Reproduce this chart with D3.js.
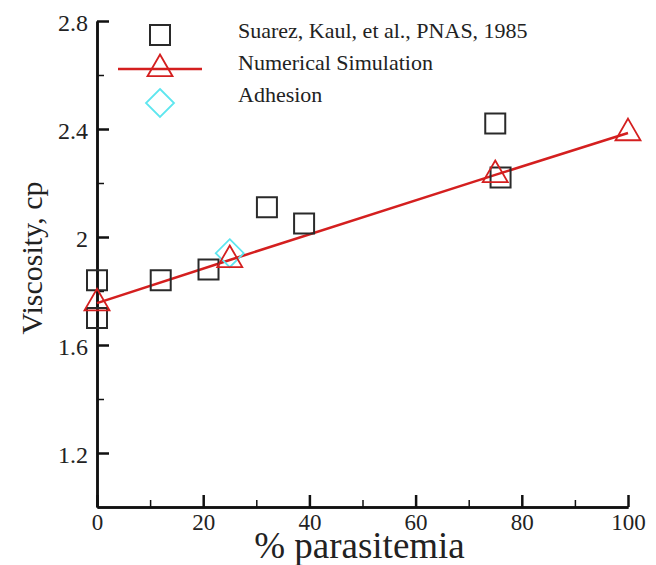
<!DOCTYPE html>
<html>
<head>
<meta charset="utf-8" />
<script src="https://d3js.org/d3.v7.min.js"></script>
<style>
  body { margin: 0; background: #fff; }
  text { font-family: "Liberation Serif", "Times New Roman", serif; fill: #222; }
</style>
</head>
<body>
<svg width="656" height="565"></svg>
<script>
// experimental data (Suarez, Kaul et al.)
var expX = [0, 0, 12, 21, 32, 39, 75, 76];
var expY = [1.84, 1.70, 1.84, 1.88, 2.11, 2.05, 2.42, 2.22];
// numerical simulation
var simX = [0, 25, 75, 100];
var simY = [1.755, 1.915, 2.23, 2.385];
// adhesion
var adhX = [25];
var adhY = [1.94];

var xTicks = [0, 20, 40, 60, 80, 100];
var yTicks = [1.2, 1.6, 2, 2.4, 2.8];
var xMinor = [10, 30, 50, 70, 90];
var yMinor = [1.4, 1.8, 2.2, 2.6];

var legendLabels = ["Suarez, Kaul, et al., PNAS, 1985", "Numerical Simulation", "Adhesion"];

var svg = d3.select("svg");
var margin = { left: 97, right: 28, top: 21, bottom: 58 };
var width = 656 - margin.left - margin.right,
    height = 565 - margin.top - margin.bottom;

var x = d3.scaleLinear().domain([0, 100]).range([0, width]);
var y = d3.scaleLinear().domain([1.0, 2.8]).range([height, 0]);

var g = svg.append("g").attr("transform", "translate(" + margin.left + "," + margin.top + ")");

var red = "#d41f1f", black = "#2a2a2a", cyan = "#5ee6ef";

// axes (ticks point inward)
var xAxis = g.append("g").attr("transform", "translate(0," + height + ")")
  .call(d3.axisBottom(x).tickValues(xTicks).tickSizeInner(-12).tickSizeOuter(0).tickPadding(7).tickFormat(d3.format("d")));
var xAxisMinor = g.append("g").attr("transform", "translate(0," + height + ")")
  .call(d3.axisBottom(x).tickValues(xMinor).tickSizeInner(-7).tickSizeOuter(0).tickFormat(""));
var yAxis = g.append("g")
  .call(d3.axisLeft(y).tickValues(yTicks).tickSizeInner(-12).tickSizeOuter(0).tickPadding(9).tickFormat(function (d) { return d === 2 ? "2" : d3.format(".1f")(d); }));
var yAxisMinor = g.append("g")
  .call(d3.axisLeft(y).tickValues(yMinor).tickSizeInner(-7).tickSizeOuter(0).tickFormat(""));

[xAxis, xAxisMinor, yAxis, yAxisMinor].forEach(function (a) {
  a.attr("font-family", "Liberation Serif").attr("font-size", 23);
  a.select(".domain").attr("stroke", "#111").attr("stroke-width", 2.5);
  a.selectAll(".tick line").attr("stroke", "#111").attr("stroke-width", 2.5);
  a.selectAll(".tick text").style("font-size", "23px").attr("fill", "#222");
});
xAxisMinor.selectAll(".tick line").attr("stroke-width", 1.5);
yAxisMinor.selectAll(".tick line").attr("stroke-width", 1.5);
xAxis.selectAll(".tick text").attr("dy", "0.71em");
yAxis.selectAll(".tick text").style("font-size", "24px").attr("dy", "0.4em");

// axis titles
svg.append("text")
  .attr("x", margin.left + x(50) - 3).attr("y", 558)
  .attr("text-anchor", "middle").style("font-size", "37px")
  .text("% parasitemia");
svg.append("text")
  .attr("transform", "translate(42," + 258 + ") rotate(-90)")
  .attr("text-anchor", "middle").style("font-size", "30px")
  .text("Viscosity, cp");

// symbols
function square(s) { var h = s / 2; return "M" + -h + "," + -h + "H" + h + "V" + h + "H" + -h + "Z"; }
function triangle(s) { var hgt = s * Math.sqrt(3) / 2; return "M0," + (-2 * hgt / 3) + "L" + (s / 2) + "," + (hgt / 3) + "L" + (-s / 2) + "," + (hgt / 3) + "Z"; }
function diamond(s) { var h = s / 2; return "M0," + -h + "L" + h + ",0L0," + h + "L" + -h + ",0Z"; }

// simulation line
var line = d3.line().x(function (d) { return x(d[0]); }).y(function (d) { return y(d[1]); });
g.append("path").datum(d3.zip(simX, simY))
  .attr("d", line).attr("fill", "none").attr("stroke", red).attr("stroke-width", 2.5);

g.selectAll(".exp").data(d3.zip(expX, expY)).enter().append("path")
  .attr("class", "exp")
  .attr("transform", function (d) { return "translate(" + x(d[0]) + "," + y(d[1]) + ")"; })
  .attr("d", square(20)).attr("fill", "none").attr("stroke", black).attr("stroke-width", 2);

g.selectAll(".adh").data(d3.zip(adhX, adhY)).enter().append("path")
  .attr("class", "adh")
  .attr("transform", function (d) { return "translate(" + x(d[0]) + "," + y(d[1]) + ")"; })
  .attr("d", diamond(28)).attr("fill", "none").attr("stroke", cyan).attr("stroke-width", 1.8);

g.selectAll(".sim").data(d3.zip(simX, simY)).enter().append("path")
  .attr("class", "sim")
  .attr("transform", function (d) { return "translate(" + x(d[0]) + "," + y(d[1]) + ")"; })
  .attr("d", triangle(25)).attr("fill", "none").attr("stroke", red).attr("stroke-width", 1.8);

// legend
var leg = svg.append("g");
var lx = 160, ly = [35, 69, 103];
leg.append("path").attr("d", square(20)).attr("transform", "translate(" + lx + "," + ly[0] + ")")
  .attr("fill", "none").attr("stroke", black).attr("stroke-width", 2);
leg.append("line").attr("x1", lx - 42).attr("x2", lx + 42).attr("y1", ly[1]).attr("y2", ly[1])
  .attr("stroke", red).attr("stroke-width", 2.5);
leg.append("path").attr("d", triangle(25)).attr("transform", "translate(" + lx + "," + ly[1] + ")")
  .attr("fill", "none").attr("stroke", red).attr("stroke-width", 1.8);
leg.append("path").attr("d", diamond(28)).attr("transform", "translate(" + lx + "," + ly[2] + ")")
  .attr("fill", "none").attr("stroke", cyan).attr("stroke-width", 1.8);
leg.selectAll(".lt").data(legendLabels).enter().append("text")
  .attr("x", 238).attr("y", function (d, i) { return [38, 70, 102][i]; })
  .style("font-size", "22px").text(function (d) { return d; });
</script>
</body>
</html>
